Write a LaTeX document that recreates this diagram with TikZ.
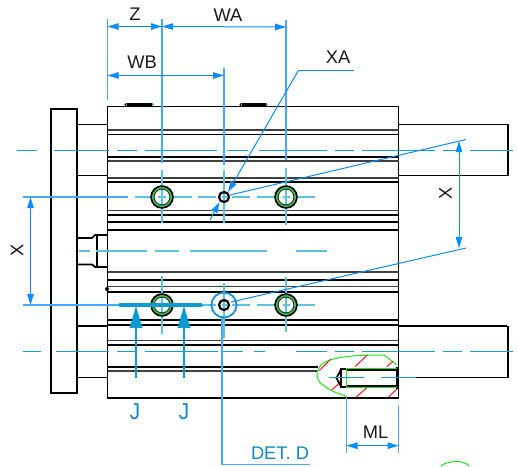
\documentclass[tikz,border=0pt]{standalone}
\usepackage{fontspec}
\setmainfont{Liberation Sans}
\usetikzlibrary{arrows.meta}
\definecolor{dimblue}{HTML}{0A8CFF}
\definecolor{extblue}{HTML}{45A8FF}
\definecolor{axisblue}{HTML}{12A0DC}
\definecolor{axislight}{HTML}{5CC4E0}
\definecolor{secblue}{HTML}{0A9BD2}
\definecolor{txtblue}{HTML}{1288C4}
\definecolor{hatchred}{HTML}{F01818}
\definecolor{cutgreen}{HTML}{18E818}
\definecolor{ringgreen}{HTML}{18D030}
\tikzset{
  obj/.style={black,line width=1.7pt},
  objthick/.style={black,line width=2.6pt},
  objgray/.style={black!75,line width=1.2pt},
  ext/.style={extblue,line width=1.2pt},
  dimline/.style={dimblue,line width=1pt,{Triangle[length=11pt,width=6.5pt]}-{Triangle[length=11pt,width=6.5pt]}},
  oneend/.style={dimblue,line width=1pt,-{Triangle[length=11pt,width=6.5pt]}},
  leader/.style={dimblue,line width=1pt},
  axis/.style={axisblue,line width=1pt},
  axisl/.style={axislight,line width=1.1pt},
  sec/.style={secblue,line width=1.5pt,-{Triangle[length=22pt,width=12.5pt]}},
  lab/.style={font=\fontsize{18.3}{18.3}\selectfont,text=black!90,inner sep=0pt},
  blab/.style={font=\fontsize{18.3}{18.3}\selectfont,text=txtblue,inner sep=0pt},
  hatch/.style={hatchred,line width=1pt},
  cut/.style={cutgreen,line width=1pt}
}
\begin{document}
\begin{tikzpicture}[x=1pt,y=-1pt]
\useasboundingbox (0,0) rectangle (518,466);
% plate and rods
\draw[obj] (51,109) rectangle (77,393);
\draw[obj] (77,124.5) -- (107.5,124.5) (77,175.5) -- (107.5,175.5);
\draw[obj] (77,326) -- (107.5,326) (77,377.5) -- (107.5,377.5);
\draw[obj] (398.5,124.5) -- (507,124.5) (398.5,175.5) -- (507,175.5);
\draw[obj] (398.5,326) -- (507,326) (398.5,377.5) -- (507,377.5);
\draw[objthick] (508,124) -- (508,176) (508,326) -- (508,378);
% boss
\draw[obj] (77,238) -- (92,238) -- (95,235) -- (107.5,235);
\draw[obj] (77,264.5) -- (92,264.5) -- (95,267) -- (107.5,267);
\draw[black,line width=2pt] (97,235) -- (97,267);
% body
\draw[obj] (107.5,106.5) rectangle (398.5,398.3);
\foreach \yy in {130,161,178,210.7,272,286.7,340.7}{\draw[objgray] (107.5,\yy) -- (398.5,\yy);}
\foreach \yy in {134.5,157,182,215,222,230,280,292,320,325,345.3}{\draw[obj] (107.5,\yy) -- (398.5,\yy);}
\draw[obj] (107.5,367.3) -- (318,367.3);
\draw[objgray] (107.5,371) -- (318,371);
\fill[black] (107,289) circle (2);
% top bumps
\foreach \xa/\xb in {126/152,241/266}{
  \draw[black,line width=3.4pt,line cap=round] (\xa,104.3) -- (\xb,104.3);
  \draw[ringgreen,line width=.8pt] (\xa,103) -- (\xa,106) (\xb,103) -- (\xb,106);
}
% threaded hole
\draw[cut] (384,355) .. controls (365,355) and (335,355) .. (322,364)
  .. controls (314,372) and (316,382) .. (326,387)
  .. controls (332,392) and (340,394) .. (346.5,396.3);
\draw[cut] (384,355) -- (397,365);
\foreach \xa/\ya/\xb/\yb in {319.3/370.7/330.7/359, 355/366.7/367.3/355, 386.7/366.7/393.3/361, 331.7/390/339.3/383.3, 356/397.3/367.3/387.3, 388.3/397.3/397.3/388.7}{
  \draw[hatch] (\xa,\ya) -- (\xb,\yb);
}
\draw[black,line width=2pt] (346,368.7) -- (341,368.7) -- (341,387.3) -- (346,387.3);
\draw[black,line width=1.8pt] (341,369.5) -- (336.5,378) -- (341,386.5);
\draw[black,line width=3pt] (397,367) -- (397,389);
\draw[black,line width=1.4pt] (346.7,370) -- (397,370) (346.7,386) -- (397,386);
\draw[cutgreen,line width=1.3pt] (397,368.5) -- (346.7,368.5) -- (346.7,387.5) -- (397,387.5);
% axes
\foreach \xa/\xb in {17/37,54/109,117/137,145/217,227/248,259/327,335/354,362/435,443/462,470/513}{
  \draw[axis] (\xa,150) -- (\xb,150);
}
\foreach \xa/\xb in {79/90,96/147,155/179,190/267,296/327}{
  \draw[axisl] (\xa,251) -- (\xb,251);
}
\foreach \xa/\xb in {23/41,56/109,117/137,145/218,222/243,254/265,296/327,335/354,362/435,443/462,470/513}{
  \draw[axis] (\xa,351.5) -- (\xb,351.5);
}
\foreach \xa/\xb in {329/364,381/416}{\draw[axis] (\xa,377.3) -- (\xb,377.3);}
% centre lines of holes
\foreach \yy in {197,305}{
  \foreach \xa/\xb in {135/153,158/166,173/192,198/216,222/227,232/250,257/279,283/290,296/315}{
    \draw[axisl] (\xa,\yy) -- (\xb,\yy);
  }
}
\foreach \xx/\ya/\yb in {162/170/223,224/170/223,286/168/225,162/276/334,224/283/338,286/277/332}{
  \draw[axisl] (\xx,\ya) -- (\xx,\yb);
}
% holes
\foreach \xx/\yy in {162/197,286/197,162/305,286/305}{
  \draw[black,line width=1.9pt] (\xx,\yy) circle (10.8);
  \draw[ringgreen,line width=1.3pt] (\xx,\yy) circle (9.1);
  \draw[black!85,line width=.9pt] (\xx,\yy) circle (7.9);
}
\foreach \xx/\yy in {224/197,224/305}{
  \draw[black,line width=2.2pt] (\xx,\yy) circle (5);
}
\draw[cyan!75!blue,line width=1.7pt] (224,305) circle (12.5);
% Z, WA, WB
\draw[ext] (107.5,19) -- (107.5,100);
\draw[ext] (162,19) -- (162,163);
\draw[ext] (286,20) -- (286,160);
\draw[ext] (224,68) -- (224,165);
\coordinate (zl) at (107.5,26.5);
\coordinate (zr) at (162,26.5);
\coordinate (wr) at (286,27);
\coordinate (wbl) at (107.5,75.5);
\coordinate (wbr) at (224,75.5);
\draw[dimline] (zl) -- (zr);
\draw[dimline] (zr) -- (wr);
\draw[dimline] (wbl) -- (wbr);
\node[lab] (tz) at (135,14) {Z};
\node[lab] (twa) at (228,15) {WA};
\node[lab] (twb) at (142,62) {WB};
% XA
\coordinate (xae) at (354,70.3);
\coordinate (xak) at (298.5,70.3);
\coordinate (xat) at (228,192);
\coordinate (xbs) at (210,220);
\coordinate (xbt) at (219.5,202);
\draw[leader] (xae) -- (xak);
\draw[oneend] (xak) -- (xat);
\draw[oneend] (xbs) -- (xbt);
\node[lab] (txa) at (338,57.5) {XA};
% X right
\coordinate (xr1s) at (230,195);
\coordinate (xr1e) at (466,139.5);
\coordinate (xr2s) at (231,302);
\coordinate (xr2e) at (466,248);
\coordinate (xra) at (459,141);
\coordinate (xrb) at (459,248);
\draw[leader] (xr1s) -- (xr1e);
\draw[leader] (xr2s) -- (xr2e);
\draw[dimline] (xra) -- (xrb);
\node[lab,rotate=90] (txr) at (445.5,193) {X};
% X left
\draw[ext] (23,197) -- (128,197);
\draw[ext] (23,305) -- (120,305);
\coordinate (xla) at (30.5,197);
\coordinate (xlb) at (30.5,305);
\draw[dimline] (xla) -- (xlb);
\node[lab,rotate=90] (txl) at (17,250.5) {X};
% J section
\draw[secblue,line width=3.2pt,line cap=round] (120,305) -- (201,305);
\coordinate (j1a) at (136,378);
\coordinate (j1b) at (136,306);
\coordinate (j2a) at (184,378);
\coordinate (j2b) at (184,306);
\draw[sec] (j1a) -- (j1b);
\draw[sec] (j2a) -- (j2b);
\node[blab,font=\fontsize{23}{23}\selectfont,xscale=.9] (tj1) at (135,412) {J};
\node[blab,font=\fontsize{23}{23}\selectfont,xscale=.9] (tj2) at (184,412) {J};
% DET. D
\coordinate (da) at (222,318);
\coordinate (db) at (222,464.5);
\coordinate (dc) at (310,464.5);
\draw[ext] (da) -- (db) -- (dc);
\node[blab] (tdet) at (280,453) {DET. D};
% ML
\draw[ext] (346.5,396) -- (346.5,453);
\draw[ext] (398.5,405) -- (398.5,453);
\coordinate (mla) at (346.5,445.7);
\coordinate (mlb) at (398.5,445.7);
\draw[dimline] (mla) -- (mlb);
\node[lab] (tml) at (375.5,432.5) {ML};
% bottom-edge green arc
\draw[cut] (441,466) .. controls (447,461) and (463,459) .. (469,466);
\end{tikzpicture}
\end{document}
